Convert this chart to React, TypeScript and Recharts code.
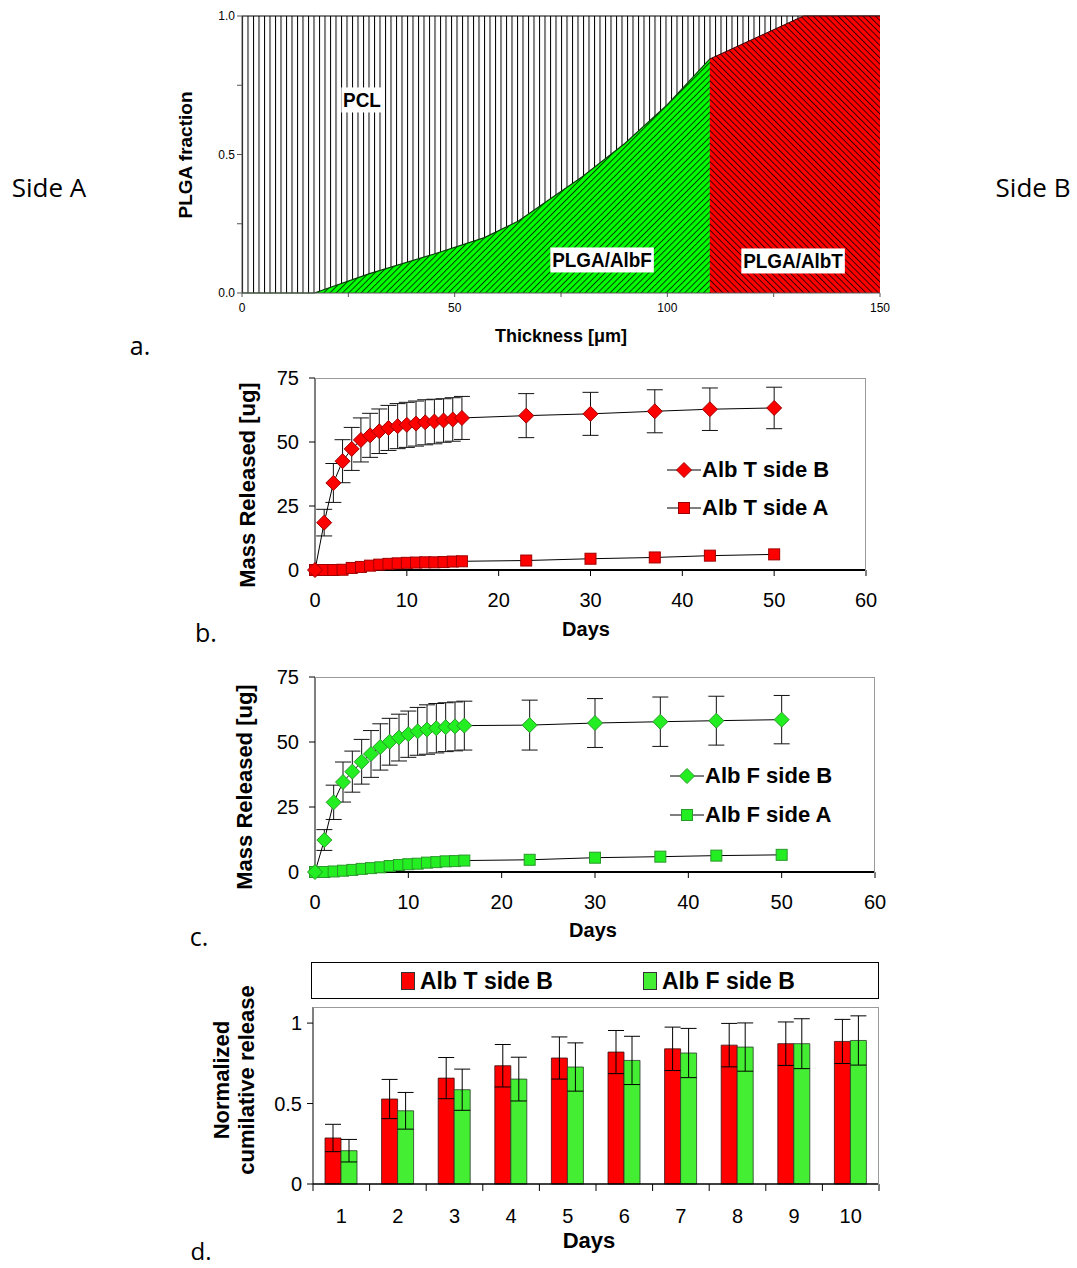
import React from "react";
import {
  AreaChart,
  Area,
  LineChart,
  Line,
  BarChart,
  Bar,
  XAxis,
  YAxis,
  ErrorBar,
} from "recharts";

// ---- panel a: PLGA fraction across the film thickness ----
const thickness = [0, 17, 30, 45, 57, 65, 72, 80, 90, 100, 110, 132, 150];
const albFFraction = [0, 0, 0.07, 0.14, 0.2, 0.26, 0.335, 0.42, 0.54, 0.68, 0.845, null, null];
const albTFraction = [null, null, null, null, null, null, null, null, null, null, 0.845, 1, 1];

// ---- panels b & c: cumulative release ----
const releaseDays = [0, 1, 2, 3, 4, 5, 6, 7, 8, 9, 10, 11, 12, 13, 14, 15, 16, 23, 30, 37, 43, 50];
const albTSideB = [0, 18.5, 34, 42.5, 47.3, 50.8, 52.6, 54.2, 55.5, 56.2, 56.7, 57.2, 57.7, 58, 58.4, 58.8, 59.4, 60.3, 61, 62, 62.8, 63.3];
const albTSideBErr = [0, 5.2, 7.6, 8.4, 8.4, 8.6, 8.6, 8.7, 8.8, 8.8, 8.8, 8.8, 8.8, 8.7, 8.5, 8.5, 8.4, 8.6, 8.4, 8.4, 8.3, 8.1];
const albTSideA = [0, 0, 0, 0.1, 0.8, 1.2, 1.7, 2.1, 2.4, 2.6, 2.8, 2.9, 3.0, 3.0, 3.1, 3.3, 3.4, 3.7, 4.4, 4.9, 5.6, 6.1];
const albFSideB = [0, 12.3, 26.8, 34.6, 38.6, 42.4, 45.4, 48.1, 50.1, 51.7, 53, 54.1, 54.8, 55.3, 55.7, 56, 56.3, 56.5, 57.3, 57.8, 58.2, 58.6];
const albFSideBErr = [0, 4, 6.6, 7.7, 7.9, 8.6, 9, 8.9, 9, 9, 8.9, 9.2, 9.5, 9.5, 9.4, 9.4, 9.4, 9.6, 9.4, 9.5, 9.4, 9.3];
const albFSideA = [0, 0, 0.2, 0.5, 0.8, 1.2, 1.5, 1.8, 2.3, 2.7, 3.0, 3.2, 3.6, 3.8, 4.1, 4.2, 4.4, 4.7, 5.5, 5.9, 6.3, 6.6];

// ---- panel d: normalized release, first 10 days ----
const barDays = ["1", "2", "3", "4", "5", "6", "7", "8", "9", "10"];
const normT = [0.286, 0.528, 0.658, 0.735, 0.783, 0.82, 0.84, 0.863, 0.872, 0.886];
const normTErr = [0.085, 0.122, 0.128, 0.132, 0.131, 0.134, 0.135, 0.135, 0.135, 0.137];
const normF = [0.207, 0.455, 0.586, 0.652, 0.727, 0.768, 0.814, 0.851, 0.872, 0.892];
const normFErr = [0.07, 0.114, 0.128, 0.136, 0.15, 0.15, 0.153, 0.15, 0.155, 0.153];

const FONT = "'Liberation Sans', Arial, sans-serif";
const NARROW = "'Liberation Sans Narrow', 'Liberation Sans', Arial, sans-serif";
const SIDE_FONT = "'Open Sans', 'Noto Sans', sans-serif";

const RED = "#ff0000";
const RED_EDGE = "#a00000";
const GREEN = "#22ee22";
const GREEN_EDGE = "#2a9a2a";
const BAR_GREEN = "#44ee33";

const profileData = thickness.map((x, i) => ({
  x,
  pcl: 1,
  albF: albFFraction[i],
  albT: albTFraction[i],
}));

const albTData = releaseDays.map((d, i) => ({
  day: d,
  b: albTSideB[i],
  bErr: albTSideBErr[i],
  a: albTSideA[i],
}));

const albFData = releaseDays.map((d, i) => ({
  day: d,
  b: albFSideB[i],
  bErr: albFSideBErr[i],
  a: albFSideA[i],
}));

const normData = barDays.map((d, i) => ({
  day: d,
  t: normT[i],
  tErr: normTErr[i],
  f: normF[i],
  fErr: normFErr[i],
}));

// absolutely placed text, centred on (x, y)
function Txt({ x, y, children, size = 20, bold = false, rotate = false, family = FONT, bg, sx = 1 }: any) {
  return (
    <div
      style={{
        position: "absolute",
        left: x,
        top: y,
        transform: `translate(-50%, -50%)${rotate ? " rotate(-90deg)" : ""}${sx !== 1 ? ` scaleX(${sx})` : ""}`,
        fontFamily: family,
        fontSize: size,
        fontWeight: bold ? 700 : 400,
        whiteSpace: "nowrap",
        lineHeight: 1.1,
        color: "#000",
        background: bg,
        padding: bg ? "1px 2px" : 0,
        textAlign: "center",
      }}
    >
      {children}
    </div>
  );
}

function diamond(fill: string, stroke: string) {
  return (props: any) => {
    const { cx, cy, index } = props;
    if (cx == null || cy == null) return <g key={index} />;
    const r = 7.5;
    return (
      <path
        key={index}
        d={`M${cx},${cy - r}L${cx + r},${cy}L${cx},${cy + r}L${cx - r},${cy}Z`}
        fill={fill}
        stroke={stroke}
        strokeWidth={1}
      />
    );
  };
}

function square(fill: string, stroke: string) {
  return (props: any) => {
    const { cx, cy, index } = props;
    if (cx == null || cy == null) return <g key={index} />;
    const h = 5.5;
    return (
      <rect
        key={index}
        x={cx - h}
        y={cy - h}
        width={h * 2}
        height={h * 2}
        fill={fill}
        stroke={stroke}
        strokeWidth={1}
      />
    );
  };
}

function LegendItem({ x, y, label, shape, fill, stroke }: any) {
  return (
    <div style={{ position: "absolute", left: x, top: y - 13, height: 26, display: "flex", alignItems: "center" }}>
      <svg width={34} height={24}>
        <line x1={0} y1={12} x2={34} y2={12} stroke="#000" strokeWidth={1} />
        {shape === "diamond" ? (
          <path d="M17,4.5L24.5,12L17,19.5L9.5,12Z" fill={fill} stroke={stroke} />
        ) : (
          <rect x={11.5} y={6.5} width={11} height={11} fill={fill} stroke={stroke} />
        )}
      </svg>
      <span style={{ fontFamily: FONT, fontWeight: 700, fontSize: 22, marginLeft: 1 }}>{label}</span>
    </div>
  );
}

function Frame({ left, top, width, height }: any) {
  return (
    <div
      style={{
        position: "absolute",
        left,
        top,
        width,
        height,
        borderTop: "1.5px solid #9a9a9a",
        borderRight: "1.5px solid #9a9a9a",
        boxSizing: "border-box",
        pointerEvents: "none",
      }}
    />
  );
}

function PanelA() {
  const tickStyle = { fontFamily: NARROW, fontSize: 12, fill: "#000" };
  return (
    <div style={{ position: "absolute", left: 0, top: 0 }}>
      <AreaChart
        width={1077}
        height={360}
        data={profileData}
        margin={{ top: 16, right: 197, bottom: 37, left: 0 }}
      >
        <defs>
          <pattern id="vlines" width={5.5} height={10} patternUnits="userSpaceOnUse">
            <rect width={5.5} height={10} fill="#fff" />
            <line x1={0.5} y1={0} x2={0.5} y2={10} stroke="#000" strokeWidth={1} />
          </pattern>
          <pattern id="greenHatch" width={4.4} height={4.4} patternUnits="userSpaceOnUse" patternTransform="rotate(45)">
            <rect width={4.4} height={4.4} fill="#00ff00" />
            <line x1={0.5} y1={0} x2={0.5} y2={4.4} stroke="#000" strokeWidth={0.75} />
          </pattern>
          <pattern id="redHatch" width={4.4} height={4.4} patternUnits="userSpaceOnUse" patternTransform="rotate(-45)">
            <rect width={4.4} height={4.4} fill="#ff0000" />
            <line x1={0.5} y1={0} x2={0.5} y2={4.4} stroke="#000" strokeWidth={0.75} />
          </pattern>
        </defs>
        <XAxis
          dataKey="x"
          type="number"
          domain={[0, 150]}
          ticks={[0, 25, 50, 75, 100, 125, 150]}
          tickFormatter={(v: number) => (v % 50 === 0 ? String(v) : "")}
          height={30}
          tick={tickStyle}
          tickSize={4}
          tickMargin={6}
          stroke="#555"
        />
        <YAxis
          type="number"
          domain={[0, 1]}
          ticks={[0, 0.25, 0.5, 0.75, 1]}
          tickFormatter={(v: number) => (v === 0 || v === 0.5 || v === 1 ? v.toFixed(1) : "")}
          width={242}
          tick={tickStyle}
          tickSize={5}
          tickMargin={2}
          stroke="#555"
        />
        <Area
          type="linear"
          dataKey="pcl"
          fill="url(#vlines)"
          fillOpacity={1}
          stroke="#000"
          strokeWidth={1}
          isAnimationActive={false}
        />
        <Area
          type="linear"
          dataKey="albF"
          fill="url(#greenHatch)"
          fillOpacity={1}
          stroke="#0a3a0a"
          strokeWidth={1.2}
          isAnimationActive={false}
        />
        <Area
          type="linear"
          dataKey="albT"
          fill="url(#redHatch)"
          fillOpacity={1}
          stroke="#3a0000"
          strokeWidth={1}
          isAnimationActive={false}
        />
      </AreaChart>
      <Txt x={362} y={100} size={21} bold family={NARROW} bg="#fff" sx={0.9}>PCL</Txt>
      <Txt x={602} y={260} size={21} bold family={NARROW} bg="#fff" sx={0.9}>PLGA/AlbF</Txt>
      <Txt x={793} y={261} size={21} bold family={NARROW} bg="#fff" sx={0.9}>PLGA/AlbT</Txt>
      <Txt x={186} y={155} size={19} bold rotate family={NARROW}>PLGA fraction</Txt>
      <Txt x={561} y={337} size={18} bold family={NARROW}>Thickness [μm]</Txt>
    </div>
  );
}

function ReleasePanel({ top, height, margin, data, fill, stroke, names, legendX, legendY, xTitle, yTitle, frame }: any) {
  const tickStyle = { fontFamily: FONT, fontSize: 20, fill: "#000" };
  return (
    <div style={{ position: "absolute", left: 0, top }}>
      <LineChart width={1077} height={height} data={data} margin={margin}>
        <XAxis
          dataKey="day"
          type="number"
          domain={[0, 60]}
          ticks={[0, 10, 20, 30, 40, 50, 60]}
          height={30}
          tick={tickStyle}
          tickSize={6}
          tickMargin={17}
          stroke="#000"
          axisLine={{ stroke: "#000", strokeWidth: 2 }}
        />
        <YAxis
          type="number"
          domain={[0, 75]}
          ticks={[0, 25, 50, 75]}
          width={60}
          tick={tickStyle}
          tickSize={6}
          tickMargin={10}
          stroke="#000"
        />
        <Line
          type="linear"
          dataKey="a"
          stroke="#000"
          strokeWidth={1}
          dot={square(fill, stroke)}
          activeDot={false}
          isAnimationActive={false}
        />
        <Line
          type="linear"
          dataKey="b"
          stroke="#000"
          strokeWidth={1}
          dot={diamond(fill, stroke)}
          activeDot={false}
          isAnimationActive={false}
        >
          <ErrorBar dataKey="bErr" direction="y" width={8} stroke="#111" strokeWidth={1} />
        </Line>
      </LineChart>
      <Frame {...frame} />
      <LegendItem x={legendX} y={legendY[0]} label={names[0]} shape="diamond" fill={fill} stroke={stroke} />
      <LegendItem x={legendX} y={legendY[1]} label={names[1]} shape="square" fill={fill} stroke={stroke} />
      <Txt x={xTitle[0]} y={xTitle[1] - top} bold>Days</Txt>
      <Txt x={yTitle[0]} y={yTitle[1] - top} bold rotate size={22}>Mass Released [ug]</Txt>
    </div>
  );
}

const D_LEFT = 313;
const D_RIGHT = 879;
const BAND = (D_RIGHT - D_LEFT) / barDays.length;

function DayTick(props: any) {
  const { x, y, payload, index } = props;
  const half = BAND / 2;
  return (
    <g>
      <line x1={x - half} y1={y} x2={x - half} y2={y + 7} stroke="#000" strokeWidth={1} />
      {index === barDays.length - 1 && (
        <line x1={x + half} y1={y} x2={x + half} y2={y + 7} stroke="#000" strokeWidth={1} />
      )}
      <text x={x} y={y + 39} textAnchor="middle" fontFamily={FONT} fontSize={20} fill="#000">
        {payload.value}
      </text>
    </g>
  );
}

function PanelD() {
  const top = 1000;
  return (
    <div style={{ position: "absolute", left: 0, top }}>
      <BarChart
        width={1077}
        height={260}
        data={normData}
        margin={{ top: 7, right: 1077 - D_RIGHT, bottom: 46, left: D_LEFT - 60 }}
        barGap={0}
        barSize={16}
      >
        <XAxis
          dataKey="day"
          height={30}
          tick={<DayTick />}
          tickLine={false}
          tickSize={0}
          tickMargin={0}
          stroke="#000"
          axisLine={{ stroke: "#000", strokeWidth: 1.5 }}
        />
        <YAxis
          type="number"
          domain={[0, 1.1]}
          ticks={[0, 0.5, 1]}
          width={60}
          tick={{ fontFamily: FONT, fontSize: 20, fill: "#000" }}
          tickSize={6}
          tickMargin={5}
          stroke="#000"
        />
        <Bar dataKey="t" fill={RED} stroke="#3a1010" strokeWidth={0.8} isAnimationActive={false}>
          <ErrorBar dataKey="tErr" direction="y" width={8} stroke="#000" strokeWidth={1} />
        </Bar>
        <Bar dataKey="f" fill={BAR_GREEN} stroke="#2a3a2a" strokeWidth={0.8} isAnimationActive={false}>
          <ErrorBar dataKey="fErr" direction="y" width={8} stroke="#000" strokeWidth={1} />
        </Bar>
      </BarChart>
      <Frame left={D_LEFT} top={7} width={D_RIGHT - D_LEFT} height={178} />
      <Txt x={589} y={1241 - top} bold size={22}>Days</Txt>
      <Txt x={222} y={1080 - top} bold rotate size={22}>Normalized</Txt>
      <Txt x={247} y={1080 - top} bold rotate size={22}>cumilative release</Txt>
    </div>
  );
}

function BarLegend() {
  const item = (x: number, fill: string, label: string) => (
    <div style={{ position: "absolute", left: x, top: 0, height: 36, display: "flex", alignItems: "center" }}>
      <div style={{ width: 12, height: 16, background: fill, border: "1px solid #333" }} />
      <span style={{ fontFamily: FONT, fontWeight: 700, fontSize: 23, marginLeft: 5 }}>{label}</span>
    </div>
  );
  return (
    <div
      style={{
        position: "absolute",
        left: 311,
        top: 962,
        width: 568,
        height: 37,
        border: "1.5px solid #000",
        boxSizing: "border-box",
      }}
    >
      {item(89, RED, "Alb T side B")}
      {item(331, BAR_GREEN, "Alb F side B")}
    </div>
  );
}

export default function App() {
  return (
    <div
      style={{
        position: "absolute",
        left: 0,
        top: 0,
        width: 1077,
        height: 1268,
        background: "#fff",
        overflow: "hidden",
      }}
    >
      <PanelA />
      <ReleasePanel
        top={360}
        height={290}
        margin={{ top: 18, right: 211, bottom: 50, left: 255 }}
        data={albTData}
        fill={RED}
        stroke={RED_EDGE}
        names={["Alb T side B", "Alb T side A"]}
        legendX={667}
        legendY={[110, 148]}
        xTitle={[586, 629]}
        yTitle={[248, 485]}
        frame={{ left: 315, top: 18, width: 551, height: 193 }}
      />
      <ReleasePanel
        top={660}
        height={290}
        margin={{ top: 17, right: 202, bottom: 48, left: 255 }}
        data={albFData}
        fill={GREEN}
        stroke={GREEN_EDGE}
        names={["Alb F side B", "Alb F side A"]}
        legendX={670}
        legendY={[116, 155]}
        xTitle={[593, 930]}
        yTitle={[245, 787]}
        frame={{ left: 315, top: 17, width: 560, height: 196 }}
      />
      <BarLegend />
      <PanelD />
      <Txt x={49} y={187} size={26} family={SIDE_FONT}>Side A</Txt>
      <Txt x={1033} y={187} size={26} family={SIDE_FONT}>Side B</Txt>
      <Txt x={140} y={346} size={25} family={SIDE_FONT}>a.</Txt>
      <Txt x={206} y={633} size={25} family={SIDE_FONT}>b.</Txt>
      <Txt x={199} y={937} size={25} family={SIDE_FONT}>c.</Txt>
      <Txt x={201} y={1251} size={24} family={SIDE_FONT}>d.</Txt>
    </div>
  );
}
